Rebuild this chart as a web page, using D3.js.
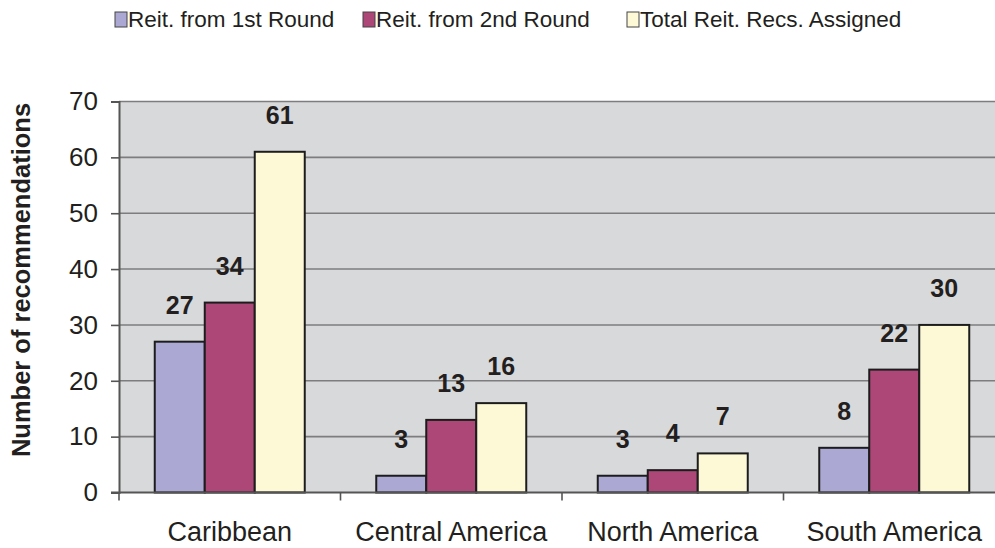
<!DOCTYPE html>
<html>
<head>
<meta charset="utf-8">
<script src="https://cdn.jsdelivr.net/npm/d3@7"></script>
<style>
  body { margin: 0; background: #fff; }
  svg { display: block; font-family: "Liberation Sans", Arial, sans-serif; }
</style>
</head>
<body>
<div id="chart"></div>
<script>
// Data
const regions = ["Caribbean", "Central America", "North America", "South America"];
const seriesNames = ["Reit. from 1st Round", "Reit. from 2nd Round", "Total Reit. Recs. Assigned"];
const firstRound = [27, 3, 3, 8];
const secondRound = [34, 13, 4, 22];
const totalAssigned = [61, 16, 7, 30];
const yTicks = [0, 10, 20, 30, 40, 50, 60, 70];

const seriesColors = ["#aba8d3", "#ad4777", "#fdf9d7"];

// Build rows
const rows = regions.map((r, i) => ({
  region: r,
  values: [firstRound[i], secondRound[i], totalAssigned[i]]
}));

const width = 995, height = 548;
const plot = { left: 119, right: 1005, top: 101.5, bottom: 492.5 };

const svg = d3.select("#chart")
  .append("svg")
  .attr("width", width)
  .attr("height", height);

// Scales
const x0 = d3.scaleBand()
  .domain(regions)
  .range([plot.left, plot.right]);

const x1 = d3.scaleBand()
  .domain(seriesNames)
  .range([0, x0.bandwidth()])
  .paddingOuter(0.715);

const y = d3.scaleLinear()
  .domain([0, 70])
  .range([plot.bottom, plot.top]);

const color = d3.scaleOrdinal().domain(seriesNames).range(seriesColors);

// Plot background
svg.append("rect")
  .attr("x", plot.left)
  .attr("y", plot.top)
  .attr("width", plot.right - plot.left)
  .attr("height", plot.bottom - plot.top)
  .attr("fill", "#d8d9db");

// Gridlines
svg.append("g")
  .selectAll("line")
  .data(yTicks.filter(d => d > 0))
  .join("line")
  .attr("x1", plot.left)
  .attr("x2", plot.right)
  .attr("y1", d => y(d))
  .attr("y2", d => y(d))
  .attr("stroke", "#7d7d7f")
  .attr("stroke-width", 1.6);

// Bars
const groups = svg.append("g")
  .selectAll("g")
  .data(rows)
  .join("g")
  .attr("transform", d => "translate(" + x0(d.region) + ",0)");

groups.selectAll("rect")
  .data(d => d.values.map((v, i) => ({ key: seriesNames[i], value: v })))
  .join("rect")
  .attr("x", d => x1(d.key))
  .attr("y", d => y(d.value))
  .attr("width", x1.bandwidth())
  .attr("height", d => y(0) - y(d.value))
  .attr("fill", d => color(d.key))
  .attr("stroke", "#1c1c1c")
  .attr("stroke-width", 2);

// Value labels
groups.selectAll("text")
  .data(d => d.values.map((v, i) => ({ key: seriesNames[i], value: v })))
  .join("text")
  .attr("x", d => x1(d.key) + x1.bandwidth() / 2)
  .attr("y", d => y(d.value) - 28)
  .attr("text-anchor", "middle")
  .attr("font-size", 25)
  .attr("font-weight", "bold")
  .attr("fill", "#231f20")
  .text(d => d.value);

// Y axis
const yAxis = d3.axisLeft(y)
  .tickValues(yTicks)
  .tickSize(8)
  .tickPadding(13);

const gy = svg.append("g")
  .attr("transform", "translate(" + plot.left + ",0)")
  .call(yAxis);
gy.select(".domain").attr("stroke", "#555").attr("stroke-width", 2);
gy.selectAll(".tick line").attr("stroke", "#555").attr("stroke-width", 1.6);
gy.selectAll(".tick text")
  .attr("font-size", 26)
  .attr("fill", "#231f20")
  .attr("font-family", "Liberation Sans, Arial, sans-serif");

// X axis line + ticks at band boundaries
svg.append("line")
  .attr("x1", plot.left - 8)
  .attr("x2", plot.right)
  .attr("y1", y(0))
  .attr("y2", y(0))
  .attr("stroke", "#555")
  .attr("stroke-width", 2);

svg.append("g")
  .selectAll("line")
  .data(regions)
  .join("line")
  .attr("x1", d => x0(d))
  .attr("x2", d => x0(d))
  .attr("y1", y(0))
  .attr("y2", y(0) + 8)
  .attr("stroke", "#555")
  .attr("stroke-width", 1.6);

// Category labels
svg.append("g")
  .selectAll("text")
  .data(regions)
  .join("text")
  .attr("x", d => x0(d) + x0.bandwidth() / 2)
  .attr("y", 541)
  .attr("text-anchor", "middle")
  .attr("font-size", 27)
  .attr("fill", "#231f20")
  .text(d => d);

// Y axis title
svg.append("text")
  .attr("transform", "translate(30,280) rotate(-90)")
  .attr("text-anchor", "middle")
  .attr("font-size", 25.5)
  .attr("font-weight", "bold")
  .attr("fill", "#231f20")
  .text("Number of recommendations");

// Legend
const legendX = [115, 363, 627];
const legend = svg.append("g")
  .selectAll("g")
  .data(seriesNames)
  .join("g")
  .attr("transform", (d, i) => "translate(" + legendX[i] + ",12)");

legend.append("rect")
  .attr("width", 12)
  .attr("height", 15)
  .attr("fill", d => color(d))
  .attr("stroke", "#444")
  .attr("stroke-width", 1);

legend.append("text")
  .attr("x", 13)
  .attr("y", 15)
  .attr("font-size", 22.5)
  .attr("fill", "#231f20")
  .text(d => d);
</script>
</body>
</html>
